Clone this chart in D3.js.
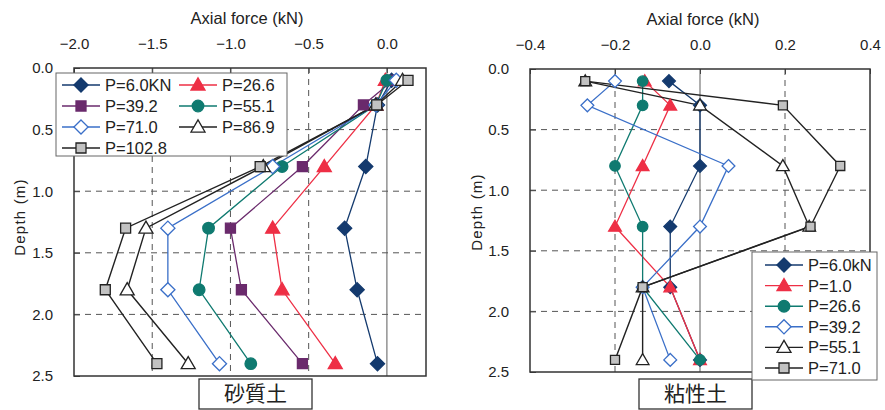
<!DOCTYPE html>
<html><head><meta charset="utf-8">
<script src="https://cdn.jsdelivr.net/npm/d3@7"></script>
<style>
body{margin:0;background:#fff;}
svg text{font-family:"Liberation Sans",Arial,sans-serif;fill:#222;}
.jp{font-family:"Noto Sans CJK JP",sans-serif;}
</style></head><body>
<svg id="c" width="885" height="410"></svg>
<script>
// ---- data ----
const depths = [0.1, 0.3, 0.8, 1.3, 1.8, 2.4];
const depthTicks = [0.0, 0.5, 1.0, 1.5, 2.0, 2.5];

// Sandy soil (砂質土)
const sandLabels = ["P=6.0KN", "P=26.6", "P=39.2", "P=55.1", "P=71.0", "P=86.9", "P=102.8"];
const sand6_0   = [0.03, -0.06, -0.135, -0.27, -0.19, -0.06];
const sand26_6  = [-0.01, -0.07, -0.40, -0.73, -0.67, -0.33];
const sand39_2  = [0.04, -0.15, -0.54, -1.00, -0.93, -0.54];
const sand55_1  = [0.00, -0.07, -0.67, -1.14, -1.20, -0.87];
const sand71_0  = [0.06, -0.07, -0.73, -1.40, -1.40, -1.07];
const sand86_9  = [0.10, -0.07, -0.79, -1.54, -1.66, -1.27];
const sand102_8 = [0.135, -0.065, -0.81, -1.67, -1.80, -1.47];
const sandXTicks = [-2.0, -1.5, -1.0, -0.5, 0.0];

// Clay soil (粘性土)
const clayLabels = ["P=6.0kN", "P=1.0", "P=26.6", "P=39.2", "P=55.1", "P=71.0"];
const clay6_0  = [-0.073, 0.0, 0.0, -0.07, -0.07, 0.0];
const clay1_0  = [-0.13, -0.07, -0.135, -0.20, -0.07, 0.0];
const clay26_6 = [-0.135, -0.135, -0.20, -0.135, -0.135, 0.0];
const clay39_2 = [-0.20, -0.265, 0.067, 0.0, -0.135, -0.07];
const clay55_1 = [-0.27, 0.0, 0.195, 0.257, -0.135, -0.135];
const clay71_0 = [-0.27, 0.195, 0.33, 0.26, -0.135, -0.20];
const clayXTicks = [-0.4, -0.2, 0.0, 0.2, 0.4];

// custom square diamond (square rotated 45deg)
const symbolSqDiamond = {
  draw(ctx, size){
    const r = Math.sqrt(size / 2);
    ctx.moveTo(0, -r); ctx.lineTo(r, 0); ctx.lineTo(0, r); ctx.lineTo(-r, 0); ctx.closePath();
  }
};

// ---- styles ----
const styles = {
  navyDiamond: {color:"#143a6e", sym:symbolSqDiamond, fill:true},
  redTri:      {color:"#ee2f45", sym:d3.symbolTriangle, fill:true},
  purpleSq:    {color:"#6a2a6c", sym:d3.symbolSquare, fill:true},
  tealCirc:    {color:"#0f7a70", sym:d3.symbolCircle, fill:true},
  blueDiam:    {color:"#3a6fc8", sym:symbolSqDiamond, fill:false},
  blackTri:    {color:"#222222", sym:d3.symbolTriangle, fill:false},
  graySq:      {color:"#222222", sym:d3.symbolSquare, fill:"#c2c2c2"}
};
const sandSeries = [
  {label:sandLabels[0], v:sand6_0,   s:styles.navyDiamond},
  {label:sandLabels[1], v:sand26_6,  s:styles.redTri},
  {label:sandLabels[2], v:sand39_2,  s:styles.purpleSq},
  {label:sandLabels[3], v:sand55_1,  s:styles.tealCirc},
  {label:sandLabels[4], v:sand71_0,  s:styles.blueDiam},
  {label:sandLabels[5], v:sand86_9,  s:styles.blackTri},
  {label:sandLabels[6], v:sand102_8, s:styles.graySq}
];
const claySeries = [
  {label:clayLabels[0], v:clay6_0,  s:styles.navyDiamond},
  {label:clayLabels[1], v:clay1_0,  s:styles.redTri},
  {label:clayLabels[2], v:clay26_6, s:styles.tealCirc},
  {label:clayLabels[3], v:clay39_2, s:styles.blueDiam},
  {label:clayLabels[4], v:clay55_1, s:styles.blackTri},
  {label:clayLabels[5], v:clay71_0, s:styles.graySq}
];

const svg = d3.select("#c");

function symSize(sym, big){
  const base = big ? 1 : 0.82;
  if (sym === d3.symbolSquare) return 100*base;
  if (sym === d3.symbolCircle) return 105*base;
  if (sym === d3.symbolTriangle) return 85*base;
  return 100*base;
}

function drawMarker(g, x, y, st, big){
  const f = st.fill === true ? st.color : (st.fill === false ? "#fff" : st.fill);
  g.append("path")
    .attr("d", d3.symbol().type(st.sym).size(symSize(st.sym, big))())
    .attr("transform", `translate(${x},${y + (st.sym===d3.symbolTriangle?1:0)})`)
    .attr("fill", f).attr("stroke", st.color).attr("stroke-width", 1.3);
}

function panel(opt){
  const x = d3.scaleLinear().domain(opt.xDomain).range([opt.left, opt.right]);
  const y = d3.scaleLinear().domain([0, 2.5]).range([opt.top, opt.bottom]);
  const g = svg.append("g");

  // grid
  opt.xTicks.forEach(t => {
    if (t <= opt.xDomain[0] || t >= opt.xDomain[1]) return;
    g.append("line").attr("x1", x(t)).attr("x2", x(t)).attr("y1", opt.top).attr("y2", opt.bottom)
      .attr("stroke", t === 0 ? "#777" : "#555").attr("stroke-width", t===0?1.2:1)
      .attr("stroke-dasharray", t === 0 ? null : "6,5");
  });
  depthTicks.forEach(t => {
    if (t <= 0 || t >= 2.5) return;
    g.append("line").attr("x1", opt.left).attr("x2", opt.right).attr("y1", y(t)).attr("y2", y(t))
      .attr("stroke", "#555").attr("stroke-width", 1).attr("stroke-dasharray", "6,5");
  });

  // axes
  const ax = g.append("g").attr("transform", `translate(0,${opt.top})`)
    .call(d3.axisTop(x).tickValues(opt.xTicks).tickSize(-5).tickPadding(19)
      .tickFormat(d => d3.format(".1f")(d).replace("-", "\u2212")));
  ax.select(".domain").remove();
  ax.selectAll(".tick line").attr("stroke", "#444");
  ax.selectAll("text").attr("font-size", 15).attr("fill", "#222");

  const ay = g.append("g").attr("transform", `translate(${opt.left},0)`)
    .call(d3.axisLeft(y).tickValues(depthTicks).tickSize(-6).tickPadding(21)
      .tickFormat(d3.format(".1f")));
  ay.select(".domain").remove();
  ay.selectAll(".tick line").attr("stroke", "#444");
  ay.selectAll("text").attr("font-size", 15).attr("fill", "#222");

  // frame
  g.append("rect").attr("x", opt.left).attr("y", opt.top)
    .attr("width", opt.right - opt.left).attr("height", opt.bottom - opt.top)
    .attr("fill", "none").attr("stroke", "#333").attr("stroke-width", 1.5);

  // titles
  g.append("text").attr("x", (opt.left + opt.right) / 2 + opt.titleDx).attr("y", opt.titleY)
    .attr("text-anchor", "middle").attr("font-size", 16.5).text("Axial force (kN)");
  g.append("text").attr("transform", `translate(${opt.yTitleX},${opt.yTitleY}) rotate(-90)`)
    .attr("text-anchor", "middle").attr("font-size", 15).attr("letter-spacing", 1.2)
    .text("Depth (m)");

  // series
  const line = d3.line().x(d => x(d[0])).y(d => y(d[1]));
  opt.series.forEach(s => {
    const pts = s.v.map((v, i) => [v, depths[i]]);
    g.append("path").attr("d", line(pts)).attr("fill", "none")
      .attr("stroke", s.s.color).attr("stroke-width", s.s.color==="#222222"?1.4:1.3);
  });
  opt.series.forEach(s => {
    s.v.forEach((v, i) => drawMarker(g, x(v), y(depths[i]), s.s, opt.big));
  });

  // soil label box
  g.append("rect").attr("x", opt.boxX).attr("y", 379).attr("width", 113).attr("height", 30)
    .attr("fill", "#fff").attr("stroke", "#333").attr("stroke-width", 1.3);
  g.append("text").attr("class", "jp").attr("x", opt.boxX + 56.5).attr("y", 401)
    .attr("text-anchor", "middle").attr("font-size", 21).text(opt.soil);
  return g;
}

panel({xDomain:[-2.0, 0.25], xTicks:sandXTicks, left:74, right:426, top:68, bottom:376,
  titleDx:-3, titleY:24, yTitleX:25, yTitleY:217, series:sandSeries, big:true,
  boxX:199, soil:"砂質土"});
panel({xDomain:[-0.4, 0.4], xTicks:clayXTicks, left:530, right:870, top:69, bottom:372,
  titleDx:3, titleY:25, yTitleX:482, yTitleY:212, series:claySeries, big:false,
  boxX:639, soil:"粘性土"});

// legends
function legendLeft(){
  const g = svg.append("g");
  g.append("rect").attr("x", 56).attr("y", 73).attr("width", 231).attr("height", 83)
    .attr("fill", "#fff").attr("stroke", "#666").attr("stroke-width", 1);
  sandSeries.forEach((s, i) => {
    const col = i % 2, row = Math.floor(i / 2);
    const x0 = col === 0 ? 62 : 179, yy = 85 + row * 21;
    g.append("line").attr("x1", x0).attr("x2", x0 + 38).attr("y1", yy).attr("y2", yy)
      .attr("stroke", s.s.color).attr("stroke-width", 1.4);
    drawMarker(g, x0 + 19, yy, s.s, true);
    g.append("text").attr("x", x0 + 43).attr("y", yy + 6).attr("font-size", 16.5).text(s.label);
  });
}
function legendRight(){
  const g = svg.append("g");
  g.append("rect").attr("x", 752).attr("y", 252).attr("width", 125).attr("height", 128)
    .attr("fill", "#fff").attr("stroke", "#666").attr("stroke-width", 1);
  claySeries.forEach((s, i) => {
    const x0 = 765, yy = 265 + i * 20.6;
    g.append("line").attr("x1", x0).attr("x2", x0 + 38).attr("y1", yy).attr("y2", yy)
      .attr("stroke", s.s.color).attr("stroke-width", 1.4);
    drawMarker(g, x0 + 19, yy, s.s, true);
    g.append("text").attr("x", x0 + 43).attr("y", yy + 6).attr("font-size", 16.5).text(s.label);
  });
}
legendLeft();
legendRight();
</script>
</body></html>
